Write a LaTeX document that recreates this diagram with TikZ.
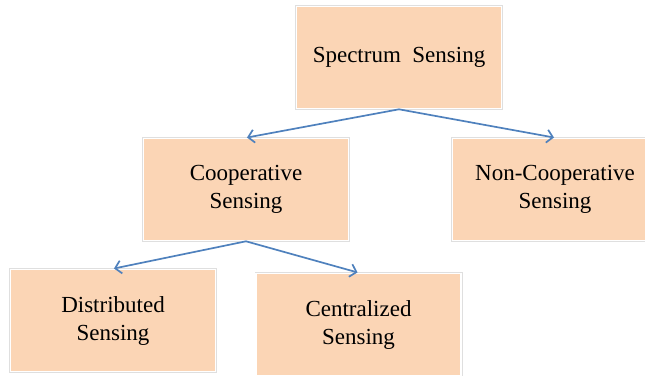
\documentclass[tikz,border=0pt]{standalone}
\usepackage{fontspec}
\setmainfont{Liberation Serif}
\usetikzlibrary{positioning,arrows.meta}
\definecolor{peach}{HTML}{FBD5B5}
\definecolor{linkblue}{HTML}{4F81BD}

\begin{document}
\begin{tikzpicture}[
	x=1pt, y=1pt,
	on grid,
	align=center,
	font=\fontsize{23}{28}\selectfont,
	sensing/.style={
		rectangle,
		fill=peach,
		draw=white,
		line width=1.6pt,
		preaction={draw=gray!25, line width=3pt},
		minimum width=205pt,
		minimum height=102pt
	},
	link/.style={
		-{Straight Barb[length=6pt,width=13pt]},
		color=linkblue,
		line width=1.7pt,
		shorten >=1pt
	}]

	\useasboundingbox (0,0) rectangle (645,-375);

	\node[sensing] (spec) at (399,-57.5) {Spectrum\ \ Sensing};
	\node[sensing, below left=132pt and 153pt of spec] (coop) {Cooperative\\Sensing};
	\node[sensing, right=309pt of coop] (noncoop) {Non-Cooperative\\Sensing};
	\node[sensing, below left=131pt and 133pt of coop] (dist) {Distributed\\Sensing};
	\node[sensing, below right=4pt and 245.5pt of dist] (central) {Centralized\\Sensing};

	\path[link]
	 (spec.south) edge (coop.north)
	 (spec.south) edge (noncoop.north)
	 (coop.south) edge (dist.north)
	 (coop.south) edge (central.north);
\end{tikzpicture}
\end{document}
